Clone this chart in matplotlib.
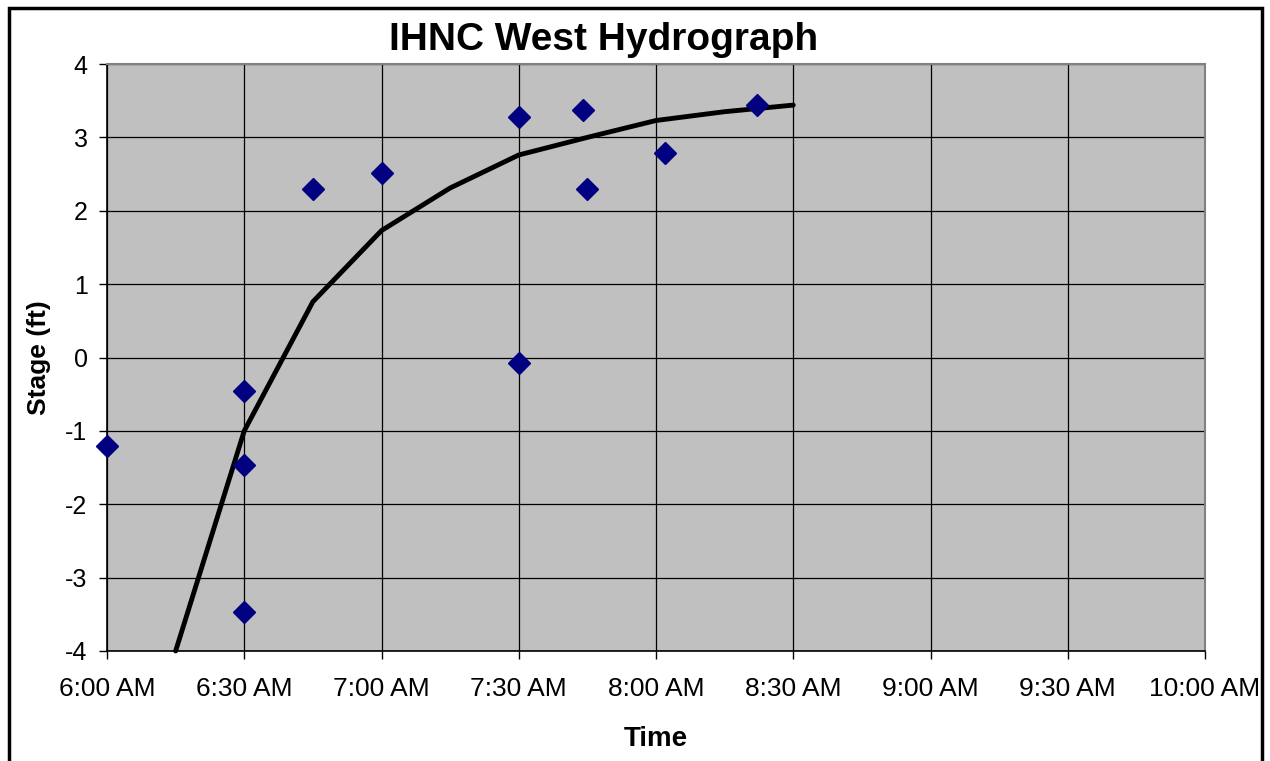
import numpy as np
import matplotlib.pyplot as plt
from matplotlib.patches import Rectangle

# observed stages (time in decimal hours)
obs_time = [6.0, 6.5, 6.5, 6.5, 6.75, 7.0, 7.5, 7.5, 7.733, 7.75, 8.033, 8.367]
obs_stage = [-1.21, -0.46, -1.47, -3.47, 2.29, 2.52, 3.28, -0.07, 3.37, 2.29, 2.79, 3.44]

# hydrograph curve
hyd_time = [6.25, 6.5, 6.75, 7.0, 7.25, 7.5, 7.75, 8.0, 8.25, 8.5]
hyd_stage = [-4.0, -1.0, 0.76, 1.73, 2.31, 2.76, 3.0, 3.23, 3.35, 3.44]

tick_hours = [6.0, 6.5, 7.0, 7.5, 8.0, 8.5, 9.0, 9.5, 10.0]
tick_labels = ['6:00 AM', '6:30 AM', '7:00 AM', '7:30 AM', '8:00 AM',
               '8:30 AM', '9:00 AM', '9:30 AM', '10:00 AM']

plt.rcParams['font.family'] = ['Liberation Sans', 'DejaVu Sans']
plt.rcParams['axes.unicode_minus'] = False

fig = plt.figure(figsize=(12.7, 7.61), dpi=100)
ax = fig.add_axes([107/1270, 1 - 651/761, 1098/1270, 587/761])
ax.set_facecolor('#c0c0c0')

ax.plot(hyd_time, hyd_stage, color='black', lw=3.5, zorder=3, clip_on=False,
        solid_capstyle='round')
ax.plot(obs_time, obs_stage, 'D', color='#000080', ms=11, zorder=4, clip_on=False)

ax.set_xlim(6, 10)
ax.set_ylim(-4, 4)
ax.set_xticks(tick_hours)
ax.set_xticklabels(tick_labels)
ax.set_yticks(np.arange(-4, 5, 1))
ax.grid(True, color='black', lw=0.9, zorder=1)
ax.set_axisbelow(True)
ax.tick_params(axis='both', direction='out', length=6, width=1, color='black')
ax.tick_params(axis='x', labelsize=19, pad=13)
ax.tick_params(axis='y', labelsize=18, pad=8)

for s in ['top', 'right']:
    ax.spines[s].set_color('#808080')
    ax.spines[s].set_linewidth(1.5)
for s in ['left', 'bottom']:
    ax.spines[s].set_color('black')
    ax.spines[s].set_linewidth(1.2)

ax.set_xlabel('Time', fontsize=20, fontweight='bold', labelpad=18)
ax.set_ylabel('Stage (ft)', fontsize=19, fontweight='bold', labelpad=10)

fig.text(604/1270, 1 - 40/761, 'IHNC West Hydrograph', fontsize=28,
         fontweight='bold', ha='center', va='center')

# outer chart border
fig.patches.append(Rectangle((9/1270, -0.05), 1253/1270, 1.05 - 8/761,
                             transform=fig.transFigure, fill=False,
                             edgecolor='black', lw=2.5))

fig.savefig('out.png', dpi=100)
